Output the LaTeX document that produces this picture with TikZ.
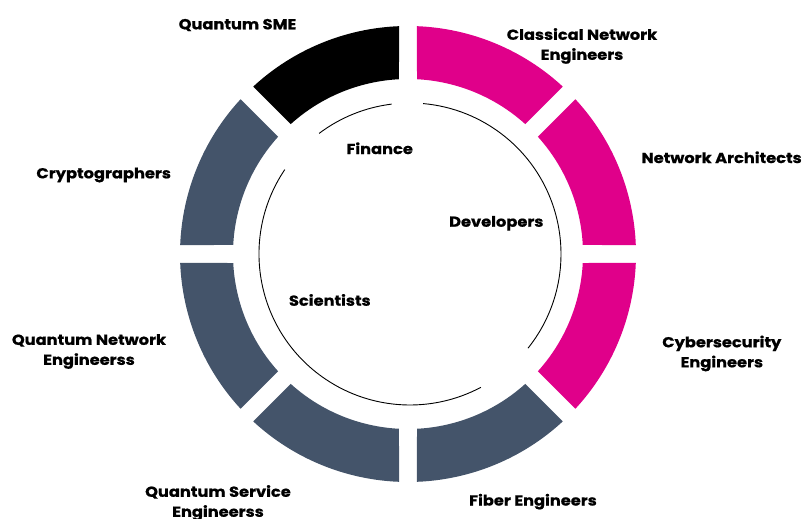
\documentclass[tikz,border=0pt]{standalone}
\usepackage{fontspec}
\setmainfont{Poppins}[BoldFeatures={FakeBold=0.8, FakeStretch=1.12}]
\definecolor{magentaseg}{RGB}{224,0,138}
\definecolor{slateseg}{RGB}{68,84,106}

\begin{document}
\begin{tikzpicture}[
    x=1pt, y=1pt,
    lbl/.style={font=\bfseries\fontsize{14.5}{20}\selectfont, align=center, inner sep=0pt},
    inner_lbl/.style={font=\bfseries\fontsize{14.5}{20}\selectfont, inner sep=0pt},
    ring_line/.style={black, line width=0.9pt}
]
\useasboundingbox (-408,-265) rectangle (396,254);

% --- Outer ring (outer radius 228, inner radius 175) ---
\fill[black]      (92.26:228pt)  arc[start angle=92.26,  end angle=132.74, radius=228pt] -- (132.05:175pt) arc[start angle=132.05, end angle=92.95,  radius=175pt] -- cycle;
\fill[magentaseg] (47.26:228pt)  arc[start angle=47.26,  end angle=87.74,  radius=228pt] -- (87.05:175pt)  arc[start angle=87.05,  end angle=47.95,  radius=175pt] -- cycle;
\fill[magentaseg] (2.26:228pt)   arc[start angle=2.26,   end angle=42.74,  radius=228pt] -- (42.05:175pt)  arc[start angle=42.05,  end angle=2.95,   radius=175pt] -- cycle;
\fill[magentaseg] (-42.74:228pt) arc[start angle=-42.74, end angle=-2.26,  radius=228pt] -- (-2.95:175pt)  arc[start angle=-2.95,  end angle=-42.05, radius=175pt] -- cycle;
\fill[slateseg]   (-87.74:228pt) arc[start angle=-87.74, end angle=-47.26, radius=228pt] -- (-47.95:175pt) arc[start angle=-47.95, end angle=-87.05, radius=175pt] -- cycle;
\fill[slateseg]   (-132.74:228pt) arc[start angle=-132.74, end angle=-92.26, radius=228pt] -- (-92.95:175pt) arc[start angle=-92.95, end angle=-132.05, radius=175pt] -- cycle;
\fill[slateseg]   (-177.74:228pt) arc[start angle=-177.74, end angle=-137.26, radius=228pt] -- (-137.95:175pt) arc[start angle=-137.95, end angle=-177.05, radius=175pt] -- cycle;
\fill[slateseg]   (137.26:228pt) arc[start angle=137.26, end angle=177.74, radius=228pt] -- (177.05:175pt) arc[start angle=177.05, end angle=137.95, radius=175pt] -- cycle;

% --- Thin inner circle, broken in three places ---
\begin{scope}[shift={(2,0)}]
    \draw[ring_line] (97:151pt) arc[start angle=97, end angle=127, radius=151pt];
    \draw[ring_line] (146:151pt) arc[start angle=146, end angle=298, radius=151pt];
    \draw[ring_line] (-38.6:151pt) arc[start angle=-38.6, end angle=85, radius=151pt];
\end{scope}

% --- Outer labels ---
\node[lbl] (sme)      at (-170.5, 229)  {Quantum SME};
\node[lbl] (classic)  at (174, 208)     {Classical Network\\Engineers};
\node[lbl] (arch)     at (313.6, 96.7)  {Network Architects};
\node[lbl] (cyber)    at (313.8, -99.5) {Cybersecurity\\Engineers};
\node[lbl] (fiber)    at (125, -247.7)  {Fiber Engineers};
\node[lbl] (service)  at (-190, -249)   {Quantum Service\\Engineerss};
\node[lbl] (qnet)     at (-319, -97.5)  {Quantum Network\\Engineerss};
\node[lbl] (crypto)   at (-304.3, 79)   {Cryptographers};

% --- Inner labels ---
\node[inner_lbl] (finance)    at (-28.3, 105.7) {Finance};
\node[inner_lbl] (developers) at (88.3, 30.7)   {Developers};
\node[inner_lbl] (scientists) at (-78.2, -46)   {Scientists};

\end{tikzpicture}
\end{document}
